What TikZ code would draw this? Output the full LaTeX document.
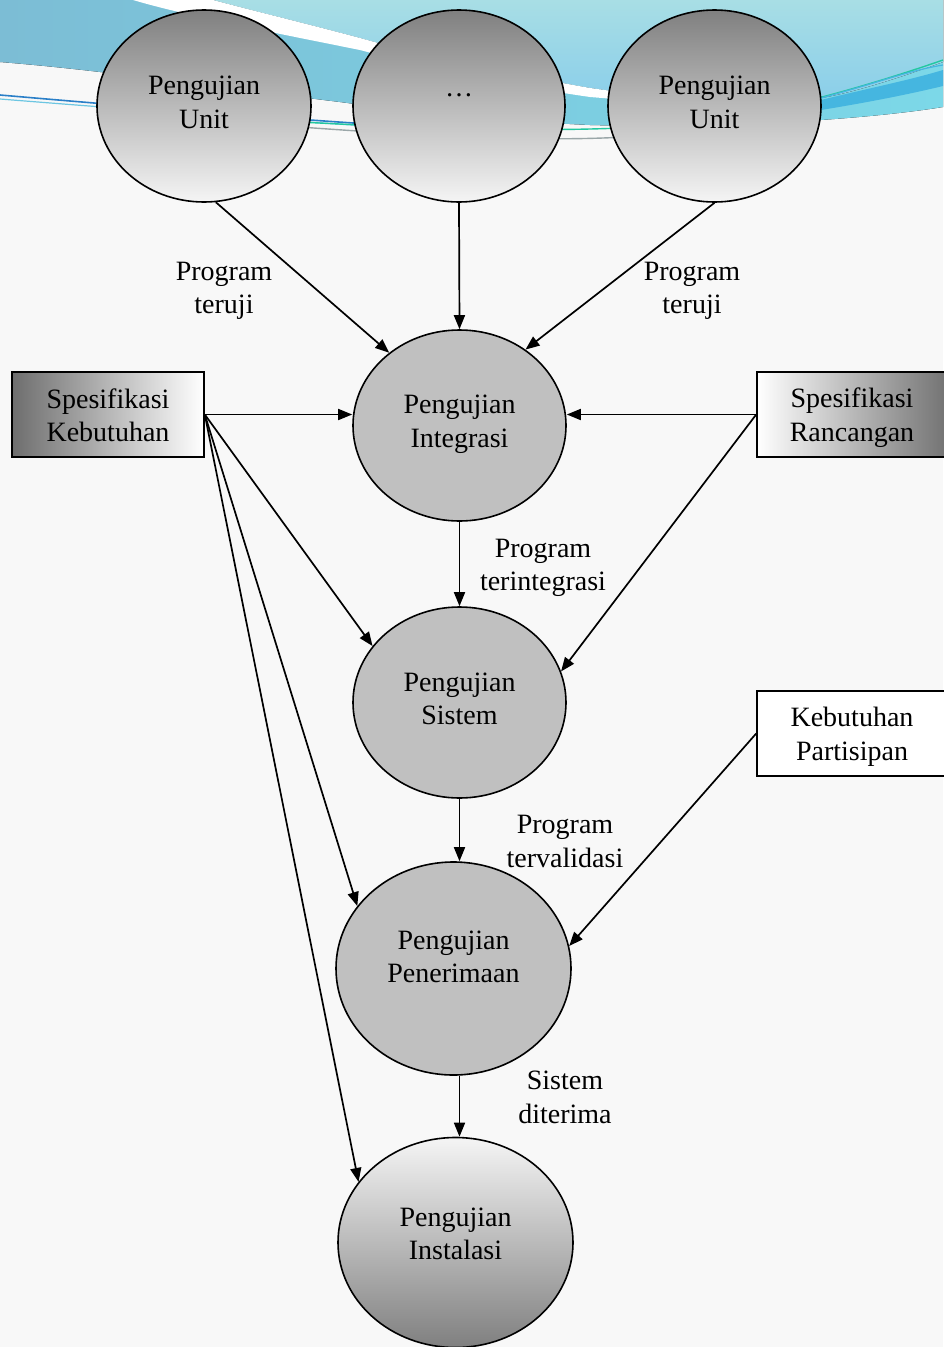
\documentclass[tikz,border=0pt]{standalone}
\usepackage{fontspec}
\setmainfont{Liberation Serif}
\usetikzlibrary{shapes.geometric,arrows.meta}
\definecolor{bgc}{HTML}{F8F8F8}
\definecolor{cA}{HTML}{7CBDD5}
\definecolor{cB}{HTML}{7CD8E8}
\definecolor{cT}{HTML}{A8DEE5}
\definecolor{cU}{HTML}{88CDEA}
\definecolor{cBand}{HTML}{45B6E0}
\definecolor{lnBlue}{HTML}{2A7FC8}
\definecolor{lnGreen}{HTML}{22C8A0}
\definecolor{lnGray}{HTML}{9AA6A8}
\definecolor{midgray}{HTML}{C0C0C0}
\newcommand{\twol}[2]{\rule{0pt}{26pt}#1\\#2\rule[-5.5pt]{0pt}{5.5pt}}
\begin{document}
\begin{tikzpicture}[x=1pt,y=-1pt,
  txt/.style={font=\fontsize{28}{33.5}\selectfont, align=center, inner sep=0pt},
  ell/.style={ellipse, draw, line width=1.6pt, inner sep=0pt},
  topell/.style={ell, top color=black!50, bottom color=black!4},
  midell/.style={ell, fill=midgray},
  botell/.style={ell, top color=black!4, bottom color=black!50},
  boxn/.style={draw, line width=1.6pt, minimum width=190pt, minimum height=85pt, inner sep=0pt, txt},
  arr/.style={-{Triangle[length=14pt,width=11pt]}, line width=1.7pt},
  lbl/.style={txt}]
\useasboundingbox (0,0) rectangle (943,1347);
\fill[bgc] (0,0) rectangle (943,1347);
% ---- top decoration ----
\fill[left color=cA, right color=cB] (0,0) -- (943,0) -- (943,107) .. controls (850,122) and (700,128) .. (590,125) .. controls (480,120) and (400,110) .. (340,102) .. controls (200,85) and (100,70) .. (0,62) -- cycle;
\fill[top color=cT, bottom color=cU] (213,0) -- (943,0) -- (943,62) .. controls (880,85) and (840,95) .. (821,98) -- (720,108) .. controls (680,100) and (640,95) .. (590,88) .. controls (500,72) and (420,55) .. (360,38) .. controls (300,22) and (250,10) .. (213,0) -- cycle;
\fill[white] (133,0) -- (213,0) .. controls (250,10) and (300,22) .. (360,38) .. controls (420,55) and (500,72) .. (590,88) .. controls (640,95) and (680,100) .. (720,108) .. controls (680,105) and (640,101) .. (590,97) .. controls (500,84) and (420,66) .. (360,50) .. controls (260,30) and (180,14) .. (133,0) -- cycle;
\fill[cBand] (821,100) .. controls (870,88) and (910,80) .. (943,70) -- (943,86) .. controls (910,94) and (870,102) .. (821,110) -- cycle;
\draw[lnBlue, line width=1.6pt] (0,95) .. controls (150,108) and (300,120) .. (400,126);
\draw[cB!80!lnBlue, line width=1.2pt] (0,99) .. controls (150,111) and (300,122) .. (400,128);
\draw[lnGreen, line width=1.4pt] (300,122) .. controls (450,130) and (600,134) .. (700,122) .. controls (780,112) and (880,82) .. (943,60);
\draw[cBand, line width=1.2pt] (780,108) .. controls (860,90) and (900,72) .. (943,65);
\draw[lnGray, line width=1.4pt] (300,127) .. controls (450,138) and (560,142) .. (640,136);
% ---- nodes ----
\node[topell, minimum width=214pt, minimum height=192pt, label={[txt,yshift=5pt]center:\twol{Pengujian}{Unit}}] (U1) at (204,106) {};
\node[topell, minimum width=212pt, minimum height=192pt, label={[txt,yshift=11pt]center:…}] (M) at (459,106) {};
\node[topell, minimum width=213pt, minimum height=192pt, label={[txt,yshift=5pt]center:\twol{Pengujian}{Unit}}] (U3) at (714.5,106) {};
\node[midell, minimum width=213pt, minimum height=191pt, label={[txt,yshift=5pt]center:\twol{Pengujian}{Integrasi}}] (I) at (459.5,425.5) {};
\node[midell, minimum width=213pt, minimum height=191pt, label={[txt,yshift=5pt]center:\twol{Pengujian}{Sistem}}] (S) at (459.5,702.5) {};
\node[midell, minimum width=235pt, minimum height=213pt, label={[txt,yshift=13pt]center:\twol{Pengujian}{Penerimaan}}] (P) at (453.5,968.5) {};
\node[botell, minimum width=235pt, minimum height=210pt, label={[txt,yshift=10pt]center:\twol{Pengujian}{Instalasi}}] (N) at (455.5,1242.5) {};
\node[boxn, minimum width=192pt, left color=black!57, right color=white] (SK) at (108,414.5) {\twol{Spesifikasi}{Kebutuhan}};
\node[boxn, left color=white, right color=black!55] (SR) at (852,414.5) {\twol{Spesifikasi}{Rancangan}};
\node[boxn, fill=white] (KP) at (852,733.5) {\twol{Kebutuhan}{Partisipan}};
% ---- labels ----
\node[lbl] (L1) at (224,287) {\twol{Program}{teruji}};
\node[lbl] (L2) at (692,287) {\twol{Program}{teruji}};
\node[lbl] (L3) at (543,564) {\twol{Program}{terintegrasi}};
\node[lbl] (L4) at (565,840) {\twol{Program}{tervalidasi}};
\node[lbl] (L5) at (565,1096) {\twol{Sistem}{diterima}};
% ---- connectors ----
\draw[arr] (U1.-83) -- (I.134);
\draw[arr] (M.south) -- (I.north);
\draw[arr] (U3.south) -- (I.49);
\draw[arr] (SK.east) -- (SK.east -| I.west);
\draw[arr] (SR.west) -- (SR.west -| I.east);
\draw[arr] (SK.east) -- (S.147.6);
\draw[arr] (SK.east) -- (P.147);
\draw[arr] (SK.east) -- (N.148.7);
\draw[arr] (SR.west) -- (S.17.6);
\draw[arr] (KP.west) -- (P.11.5);
\draw[arr] (I.south) -- (S.north);
\draw[arr] (S.south) -- (S.south |- P.north);
\draw[arr] (S.south |- P.south) -- (S.south |- N.north);
\end{tikzpicture}
\end{document}
